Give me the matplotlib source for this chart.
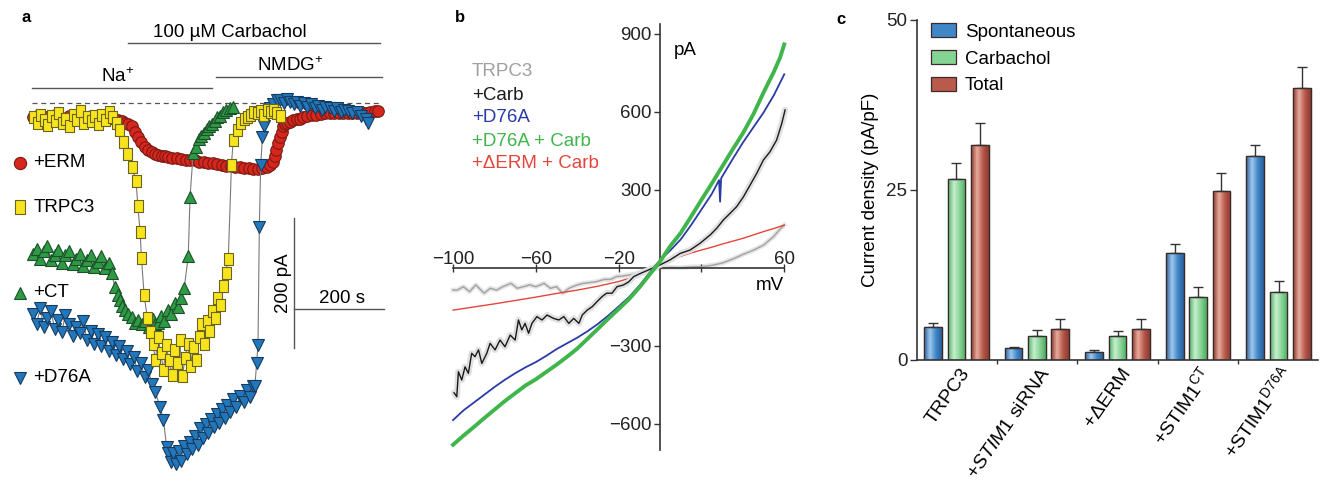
import numpy as np
import matplotlib
matplotlib.use('Agg')
import matplotlib.pyplot as plt
from matplotlib.colors import LinearSegmentedColormap
from matplotlib.patches import Rectangle

plt.rcParams['font.family'] = ['Liberation Sans', 'DejaVu Sans']
plt.rcParams['mathtext.fontset'] = 'custom'
plt.rcParams['mathtext.rm'] = 'Liberation Sans'
plt.rcParams['mathtext.it'] = 'Liberation Sans:italic'
plt.rcParams['font.size'] = 13

# ---------------- panel a: time course (s, pA) ----------------
t_erm = [0, 10, 20, 30, 40, 50, 60, 70, 80, 90, 100, 110, 120, 130, 140, 150, 160, 170, 180,
         190, 197, 204, 211, 219, 226, 234, 241, 249, 256, 264, 271, 278, 286, 293, 301, 310,
         320, 330, 340, 350, 360, 370, 380, 390, 400, 410, 420, 430, 440, 450, 460, 470, 480,
         490, 500, 510, 519, 527, 534, 538, 541, 545, 549, 553, 556, 560, 565, 571, 578, 586,
         593, 601, 610, 620, 630, 640, 650, 660, 670, 680, 690, 700, 710, 720, 730, 740, 750,
         760, 767]
i_erm = [-22, -20, -24, -21, -23, -19, -22, -24, -20, -23, -21, -25, -22, -20, -24, -22, -25, -23, -24,
         -26, -28, -31, -33, -36, -44, -52, -60, -67, -72, -75, -78, -80, -81, -82, -83, -84,
         -85, -86, -87, -88, -88, -90, -91, -92, -93, -94, -95, -97, -97, -98, -99, -100, -100,
         -101, -101, -100, -98, -95, -90, -82, -72, -62, -52, -44, -36, -32, -30, -29, -26, -25,
         -24, -22, -20, -18, -18, -17, -16, -16, -16, -15, -16, -16, -15, -15, -14, -15, -14,
         -13, -13]

t_trpc3 = [0, 8, 16, 24, 32, 40, 48, 56, 64, 72, 80, 88, 96, 104, 112, 120, 128, 136, 144, 152,
           160, 168, 176, 184, 192, 200, 210, 220, 229, 233, 238, 241, 247, 254, 260, 266, 272,
           278, 284, 290, 296, 302, 308, 314, 320, 326, 332, 338, 344, 350, 356, 362, 368, 374,
           380, 386, 392, 398, 404, 410, 416, 422, 428, 434, 441, 445, 453, 460, 468, 475, 483,
           490, 497, 505, 512, 520, 527, 534, 541, 549]
i_trpc3 = [-22, -30, -18, -26, -34, -20, -28, -16, -30, -24, -36, -18, -26, -12, -30, -22, -28, -20,
           -32, -18, -26, -14, -22, -30, -42, -60, -78, -98, -120, -158, -198, -238, -296, -330,
           -352, -370, -395, -360, -385, -410, -372, -395, -418, -380, -400, -365, -420, -392,
           -370, -405, -375, -395, -360, -340, -370, -335, -350, -320, -330, -300, -310, -282,
           -262, -240, -95, -57, -42, -31, -24, -21, -18, -14, -16, -12, -18, -10, -14, -11, -16,
           -20]

t_ct = [0, 8, 16, 24, 32, 40, 48, 56, 64, 72, 80, 88, 96, 104, 112, 120, 128, 136, 144, 152,
        160, 168, 175, 182, 188, 193, 198, 204, 212, 219, 226, 234, 242, 250, 258, 266, 272,
        278, 285, 292, 300, 307, 315, 322, 329, 336, 345, 349, 356, 362, 368, 374, 380, 386,
        392, 398, 404, 410, 416, 422, 430, 437, 445]
i_ct = [-232, -224, -240, -228, -220, -242, -234, -226, -246, -234, -228, -248, -240, -232, -250,
        -242, -234, -252, -244, -236, -254, -246, -262, -283, -296, -303, -312, -318, -325, -329,
        -338, -334, -340, -336, -344, -332, -340, -338, -328, -335, -318, -325, -308, -314, -300,
        -285, -236, -144, -77, -68, -56, -50, -46, -40, -36, -32, -28, -22, -20, -14, -11, -8, -6]

t_d76a = [0, 8, 16, 24, 32, 40, 48, 56, 64, 72, 80, 88, 96, 104, 112, 120, 128, 136, 144, 152,
          160, 168, 176, 184, 192, 200, 208, 216, 224, 232, 240, 248, 256, 264, 272, 282, 290,
          297, 301, 306, 312, 318, 324, 330, 336, 342, 348, 354, 360, 366, 372, 378, 384, 390,
          396, 402, 408, 414, 420, 426, 432, 438, 445, 452, 460, 468, 475, 482, 488, 493, 497,
          500, 503, 506, 510, 514, 519, 526, 534, 542, 549, 557, 565, 572, 580, 586, 594, 602,
          610, 618, 626, 634, 642, 650, 660, 668, 676, 684, 692, 700, 710, 720, 730, 741, 745]
i_d76a = [-325, -340, -316, -344, -330, -320, -347, -334, -352, -326, -340, -358, -344, -354, -336,
          -364, -350, -370, -356, -374, -360, -382, -368, -388, -374, -394, -382, -402, -390, -412,
          -400, -422, -410, -432, -445, -467, -488, -529, -539, -552, -538, -556, -536, -550, -528,
          -540, -522, -532, -512, -526, -500, -515, -494, -508, -486, -498, -478, -492, -470, -484,
          -464, -476, -456, -468, -450, -460, -442, -452, -436, -436, -400, -372, -190, -95, -52,
          -36, -20, -8, -2, 4, 5, 0, 6, 2, -2, 2, -4, 0, -6, -2, -8, -4, -10, -6, -8, -12, -8,
          -14, -10, -12, -16, -14, -20, -24, -31]

# ---------------- panel b: I-V curves (mV, pA) ----------------
v_trpc3 = [-100, -98, -95, -92, -89, -85, -82, -79, -76, -72, -69, -66, -63, -60, -56, -53, -50,
           -47, -44, -40, -37, -34, -31, -27, -24, -21, -18, -15, -11, -8, -5, 0, 5, 10, 15, 20,
           25, 30, 35, 40, 45, 50, 55, 58, 60]
i_trpc3_iv = [-85, -85, -72, -91, -65, -97, -78, -85, -72, -59, -78, -72, -65, -72, -59, -78, -72,
              -97, -78, -65, -59, -56, -53, -44, -44, -33, -31, -27, -21, -12, -5, 0, 2, 1, 4, 5,
              10, 19, 34, 52, 68, 88, 122, 150, 165]

v_carb = [-99.5, -98.2, -97.4, -95.8, -94.2, -92.6, -91, -89.4, -87.7, -86.1, -83.7, -82.1, -79.7,
          -77.3, -74.9, -72.4, -70, -68.4, -66.8, -65.2, -63.5, -61.9, -59.5, -57, -54.6, -51.4,
          -48.9, -46.5, -44.1, -41.7, -39.2, -37.6, -35.2, -32.8, -30.4, -28, -25.8, -23.2, -20.8,
          -17.6, -15.1, -12.7, -9.5, -6.3, 0, 4.8, 9.7, 14.5, 19.3, 24.2, 27.4, 30.6, 33.8, 37,
          40.3, 43.5, 46.7, 49.9, 53.1, 56.3, 58.8, 60.4]
i_carb = [-480, -495, -399, -431, -380, -405, -328, -341, -315, -367, -328, -290, -315, -277, -303,
          -258, -277, -200, -238, -213, -251, -213, -187, -200, -181, -194, -200, -187, -213, -194,
          -213, -181, -162, -149, -129, -110, -97, -97, -72, -65, -53, -33, -21, -10, 12, 31, 56,
          69, 95, 127, 153, 185, 210, 236, 274, 319, 364, 415, 447, 492, 556, 608]

v_d76a = [-100, -95, -90, -85, -80, -75, -70, -65, -60, -55, -50, -45, -40, -35, -30, -25, -20,
          -15, -10, -5, 0, 5, 10, 15, 20, 25, 28.5, 29, 29.5, 35, 40, 45, 50, 55, 60]
i_d76a_iv = [-585, -548, -518, -488, -458, -430, -405, -382, -362, -338, -312, -290, -268, -243,
             -215, -183, -148, -112, -68, -18, 30, 68, 110, 165, 225, 285, 338, 255, 345, 418, 482,
             540, 598, 665, 745]

v_d76a_carb = [-100, -95, -90, -85, -80, -75, -70, -65, -60, -55, -50, -45, -40, -35, -30, -25,
               -20, -15, -10, -5, 0, 5, 10, 15, 20, 25, 30, 35, 40, 45, 50, 55, 58, 60]
i_d76a_carb = [-680, -645, -612, -578, -545, -512, -482, -452, -428, -400, -372, -342, -310, -272,
               -234, -195, -158, -120, -75, -25, 25, 85, 135, 198, 262, 325, 390, 455, 518, 590,
               675, 755, 810, 860]

v_derm = [-100, -90, -80, -70, -60, -50, -40, -30, -20, -10, -5, 0, 5, 10, 15, 20, 25, 30, 35, 40,
          45, 50, 55, 60]
i_derm = [-162, -150, -138, -125, -112, -98, -85, -70, -52, -28, -10, 10, 30, 45, 58, 69, 80, 92,
          103, 114, 127, 140, 152, 165]

# ---------------- panel c: current density (pA/pF) ----------------
groups = ['TRPC3', '+$\\mathit{STIM1}$ siRNA', '+\u0394ERM', '+STIM1$^{\\mathrm{CT}}$',
          '+STIM1$^{\\mathrm{D76A}}$']
spont = [4.9, 1.7, 1.2, 15.8, 30.0]
spont_err = [0.5, 0.2, 0.2, 1.2, 1.6]
carb = [26.6, 3.5, 3.5, 9.2, 10.0]
carb_err = [2.4, 0.9, 0.7, 1.6, 1.6]
total = [31.6, 4.5, 4.6, 24.9, 40.0]
total_err = [3.3, 1.6, 1.5, 2.6, 3.1]

fig = plt.figure(figsize=(13.26, 4.83), dpi=100)
W, H = 1326.0, 483.0

# ===== a =====
axa = fig.add_axes([0, 0, 420 / W, 1])
axa.set_xlim(-73.3, 860)
axa.set_ylim(-584.6, 158.5)
axa.axis('off')


def trace(t, i, marker, fc, ec, ms, z):
    axa.plot(t, i, '-', color='#7a7a7a', lw=0.8, zorder=z)
    axa.plot(t, i, ls='none', marker=marker, ms=ms, mfc=fc, mec=ec, mew=0.8, zorder=z + 0.5)


tall_box = [(-0.36, -0.5), (0.36, -0.5), (0.36, 0.5), (-0.36, 0.5), (-0.36, -0.5)]
sty_erm = dict(marker='o', fc='#d7261e', ec='#7a1a12', ms=8.3)
sty_trpc3 = dict(marker=tall_box, fc='#f7e41c', ec='#6b6420', ms=9)
sty_ct = dict(marker='^', fc='#2f9a45', ec='#1b5028', ms=8.8)
sty_d76a = dict(marker='v', fc='#2277bb', ec='#163b60', ms=8.8)

trace(t_erm, i_erm, z=2, **sty_erm)
trace(t_ct, i_ct, z=3, **sty_ct)
trace(t_d76a, i_d76a, z=4, **sty_d76a)
trace(t_trpc3, i_trpc3, z=5, **sty_trpc3)

# in-panel keys
for sty, y, lab in [(sty_erm, -92, '+ERM'), (sty_trpc3, -160, 'TRPC3'),
                    (sty_ct, -292, '+CT'), (sty_d76a, -423, '+D76A')]:
    axa.plot([-29], [y], ls='none', marker=sty['marker'], ms=sty['ms'] + 0.5, mfc=sty['fc'],
             mec=sty['ec'], mew=0.8)
    axa.text(1, y, lab, va='center', ha='left', fontsize=13.5)

lc = '#555555'
axa.plot([-2, 773], [0, 0], color=lc, ls=(0, (4, 3)), lw=0.9)
axa.plot([211, 771], [92, 92], color=lc, lw=1)
axa.text(438, 108, '100 \u00b5M Carbachol', ha='center', va='center', fontsize=13.5)
axa.plot([-2, 398], [22.6, 22.6], color=lc, lw=1)
axa.text(189, 40, 'Na$^{+}$', ha='center', va='center', fontsize=13.5)
axa.plot([407, 776], [40.5, 40.5], color=lc, lw=1)
axa.text(571, 58, 'NMDG$^{+}$', ha='center', va='center', fontsize=13.5)
# scale bars
axa.plot([580, 580], [-177, -377], color=lc, lw=1)
axa.plot([580, 780], [-317, -317], color=lc, lw=1)
axa.text(556, -277, '200 pA', rotation=90, ha='center', va='center', fontsize=13.5)
axa.text(687, -300, '200 s', ha='center', va='center', fontsize=13.5)

# ===== b =====
axb = fig.add_axes([440 / W, 23 / H, 360 / W, 440 / H])
axb.set_xlim(-106.3, 67.6)
axb.set_ylim(-738.5, 953.8)
axb.patch.set_visible(False)

axb.plot(v_trpc3, i_trpc3_iv, color='#e6e6e6', lw=3.5, zorder=1.5)
axb.plot(v_trpc3, i_trpc3_iv, color='#a5a5a5', lw=1.1, zorder=2)
axb.plot(v_derm, i_derm, color='#e4453c', lw=1.0, zorder=3)
axb.plot(v_carb, i_carb, color='#e0e0e0', lw=4.5, zorder=3.5, solid_capstyle='round')
axb.plot(v_carb, i_carb, color='#1a1a1a', lw=1.0, zorder=4)
axb.plot(v_d76a, i_d76a_iv, color='#2a3aa6', lw=1.3, zorder=5)
axb.plot(v_d76a_carb, i_d76a_carb, color='#3fb54b', lw=2.8, zorder=6)

axb.spines['right'].set_visible(False)
axb.spines['left'].set_position(('data', 0))
axb.spines['left'].set_bounds(-700, 940)
axb.spines['bottom'].set_position(('data', 0))
axb.spines['bottom'].set_bounds(-100, 60)
axb.spines['top'].set_position(('data', 0))
axb.spines['top'].set_visible(False)
for s in ['left', 'bottom']:
    axb.spines[s].set_color('#333333')
    axb.spines[s].set_linewidth(1.2)

axb.set_yticks([-600, -300, 300, 600, 900])
axb.set_yticklabels(['\u2212600', '\u2212300', '300', '600', '900'])
axb.tick_params(axis='y', direction='out', length=4, width=1, pad=2, colors='#333333',
                labelcolor='#222222', labelsize=13.5)
axb.set_xticks([-100, -60, -20, 20, 60])
axb.set_xticklabels(['\u2212100', '\u221260', '\u221220', '', '60'])
axb.tick_params(axis='x', top=True, bottom=False, labeltop=True, labelbottom=False,
                direction='inout', length=6, width=1, pad=-3, colors='#333333',
                labelcolor='#222222', labelsize=13.5)
axb.text(53, -69, 'mV', ha='center', va='center', fontsize=13.5)
axb.text(12, 838, 'pA', ha='center', va='center', fontsize=13.5)

for y, lab, col in [(754, 'TRPC3', '#a0a0a0'), (665, '+Carb', '#1a1a1a'),
                    (577, '+D76A', '#2a3aa6'), (488, '+D76A + Carb', '#3fb54b'),
                    (400, '+\u0394ERM + Carb', '#e4453c')]:
    axb.text(-91, y, lab, color=col, ha='left', va='center', fontsize=13.5)

# ===== c =====
axc = fig.add_axes([917 / W, 123 / H, 401 / W, 340 / H])
x = np.arange(len(groups))
w = 0.22
series = [
    (spont, spont_err, 'Spontaneous', ['#2b639e', '#9fc8ee', '#3f87c9', '#2a5f98'], '#3f87c9', -0.29),
    (carb, carb_err, 'Carbachol', ['#4fae66', '#c8eed0', '#86d494', '#4ea863'], '#86d494', 0.0),
    (total, total_err, 'Total', ['#8c3a30', '#e9ab9c', '#b85a4c', '#8a3a31'], '#b85a4c', 0.29),
]
grad = np.linspace(0, 1, 64).reshape(1, -1)
handles = []
for vals, err, lab, cols, base, off in series:
    bc = axc.bar(x + off, vals, w, color=base, edgecolor='#3a2a28', lw=0.9, zorder=2, label=lab)
    cm = LinearSegmentedColormap.from_list(lab, cols)
    for rect in bc:
        x0, y0 = rect.get_xy()
        im = axc.imshow(grad, extent=[x0, x0 + rect.get_width(), y0, y0 + rect.get_height()],
                        aspect='auto', cmap=cm, origin='lower', zorder=2.1, interpolation='bilinear')
        im.set_clip_path(rect)
        axc.add_patch(Rectangle((x0, y0), rect.get_width(), rect.get_height(), fill=False,
                                ec='#3a2a28', lw=0.9, zorder=2.2))
    axc.errorbar(x + off, vals, yerr=[np.zeros(len(vals)), err], fmt='none', ecolor='#333333',
                 elinewidth=1, capsize=3.5, capthick=1, zorder=3)
    handles.append(bc)

axc.set_xlim(-0.49, 4.49)
axc.set_ylim(0, 50)
for s in ['top', 'right']:
    axc.spines[s].set_visible(False)
for s in ['left', 'bottom']:
    axc.spines[s].set_color('#333333')
    axc.spines[s].set_linewidth(1.2)
axc.set_yticks([0, 25, 50])
axc.tick_params(axis='y', direction='out', length=5, width=1, colors='#333333',
                labelcolor='#222222', labelsize=13.5, pad=2)
# label anchors sit a little right of each group centre, as in the original
axc.set_xticks(x + 0.12)
axc.set_xticklabels(groups, rotation=55, ha='right', va='center', rotation_mode='anchor',
                    fontsize=14)
axc.tick_params(axis='x', length=0, pad=7)
axc.set_xticks(x[:-1] + 0.5, minor=True)
axc.tick_params(axis='x', which='minor', length=3, width=1, direction='out', colors='#333333')
axc.set_ylabel('Current density (pA/pF)', fontsize=13.5, labelpad=5)

axc.legend(handles, [s[2] for s in series], loc='upper left', bbox_to_anchor=(0.035, 0.99),
           frameon=False, handlelength=1.35, handleheight=0.75, labelspacing=0.5,
           handletextpad=0.45, borderaxespad=0, borderpad=0, fontsize=13.5)

# panel letters
fig.text(22 / W, 1 - 17 / H, 'a', fontweight='bold', fontsize=12, va='center')
fig.text(455 / W, 1 - 17 / H, 'b', fontweight='bold', fontsize=12, va='center')
fig.text(836 / W, 1 - 19 / H, 'c', fontweight='bold', fontsize=12, va='center')

fig.savefig('out.png', dpi=100)
